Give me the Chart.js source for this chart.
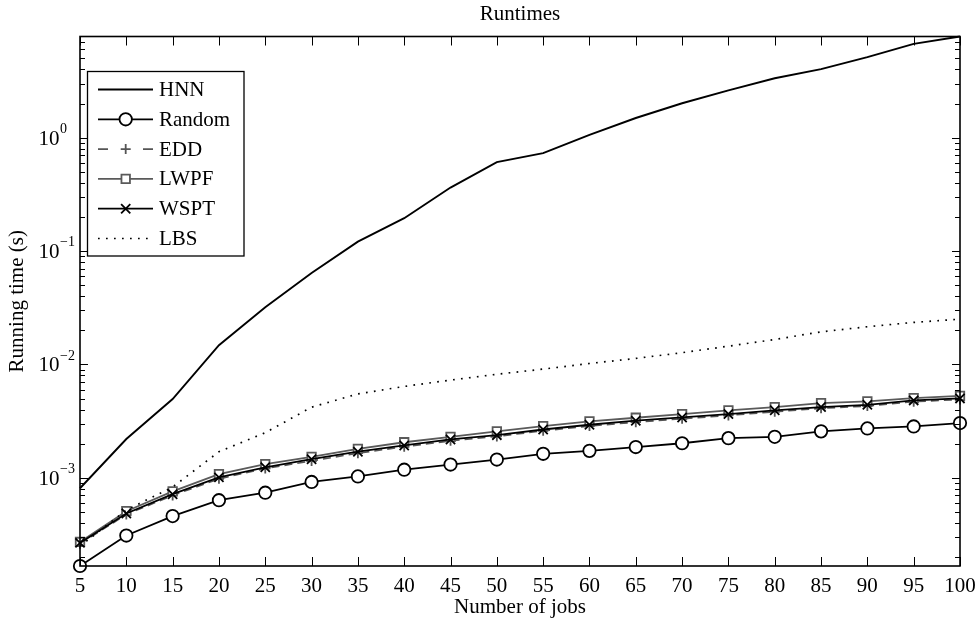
<!DOCTYPE html>
<html><head><meta charset="utf-8">
<script src="https://cdn.jsdelivr.net/npm/chart.js@4"></script>
<style>html,body{margin:0;padding:0;background:#fff}</style>
</head><body>
<canvas id="c" width="980" height="624"></canvas>
<script>
// ---- data ----
const jobs   = [5,10,15,20,25,30,35,40,45,50,55,60,65,70,75,80,85,90,95,100];
const hnn    = [8.1e-4,2.2e-3,4.95e-3,1.48e-2,3.2e-2,6.4e-2,0.121,0.195,0.363,0.608,0.73,1.06,1.49,2.01,2.61,3.34,4.02,5.13,6.71,7.8];
const random = [1.67e-4,3.1e-4,4.6e-4,6.35e-4,7.4e-4,9.2e-4,1.03e-3,1.18e-3,1.31e-3,1.45e-3,1.63e-3,1.73e-3,1.87e-3,2.02e-3,2.24e-3,2.30e-3,2.57e-3,2.73e-3,2.84e-3,3.04e-3];
const edd    = [2.62e-4,4.75e-4,7.0e-4,0.98e-3,1.21e-3,1.41e-3,1.65e-3,1.88e-3,2.12e-3,2.32e-3,2.60e-3,2.86e-3,3.10e-3,3.32e-3,3.55e-3,3.83e-3,4.10e-3,4.30e-3,4.70e-3,4.90e-3];
const lwpf   = [2.72e-4,5.08e-4,7.6e-4,1.08e-3,1.32e-3,1.53e-3,1.80e-3,2.06e-3,2.30e-3,2.57e-3,2.86e-3,3.15e-3,3.39e-3,3.65e-3,3.94e-3,4.21e-3,4.56e-3,4.72e-3,5.05e-3,5.29e-3];
const wspt   = [2.67e-4,4.85e-4,7.18e-4,1.01e-3,1.24e-3,1.46e-3,1.70e-3,1.93e-3,2.18e-3,2.38e-3,2.67e-3,2.94e-3,3.19e-3,3.41e-3,3.65e-3,3.94e-3,4.21e-3,4.41e-3,4.82e-3,5.02e-3];
const lbs    = [2.5e-4,5.2e-4,8.3e-4,1.7e-3,2.5e-3,4.2e-3,5.5e-3,6.4e-3,7.28e-3,8.2e-3,9.1e-3,1.02e-2,1.13e-2,1.27e-2,1.45e-2,1.66e-2,1.94e-2,2.15e-2,2.35e-2,2.51e-2];
const xTicks = jobs;
const yDecadeExps = [-4,-3,-2,-1,0];
const yMinorMults = [2,3,4,5,6,7,8,9];
const yMin = 1.67e-4, yMax = 7.8;
const chartTitle = 'Runtimes';

const FONT = "'Liberation Serif','Times New Roman',serif";

const styles = {
  HNN:    {color:'#000', width:1.9, dash:[], point:false},
  Random: {color:'#000', width:1.8, dash:[], point:'circle', r:6.2},
  EDD:    {color:'#555', width:1.6, dash:[8,5], point:'cross', r:5},
  LWPF:   {color:'#5a5a5a', width:1.8, dash:[], point:'rect', r:6},
  WSPT:   {color:'#000', width:1.8, dash:[], point:'crossRot', r:6.5},
  LBS:    {color:'#000', width:1.7, dash:[1.7,6.3], point:false}
};
const series = [['HNN',hnn],['Random',random],['EDD',edd],['LWPF',lwpf],['WSPT',wspt],['LBS',lbs]];

const datasets = series.map(([name, vals], i) => {
  const s = styles[name];
  return {
    label: name,
    data: jobs.map((x, k) => ({x, y: vals[k]})),
    borderColor: s.color,
    borderWidth: s.width,
    borderDash: s.dash,
    pointStyle: s.point || 'circle',
    pointRadius: s.point ? s.r : 0,
    pointBorderColor: s.color,
    pointBorderWidth: 1.8,
    pointBackgroundColor: (s.point === 'circle' || s.point === 'rect') ? '#fff' : s.color,
    fill: false,
    tension: 0,
    clip: false,
    order: 10 - i
  };
});

function drawMarker(ctx, style, r, px, py, color) {
  ctx.save();
  ctx.strokeStyle = color;
  ctx.fillStyle = '#fff';
  ctx.lineWidth = 1.8;
  ctx.beginPath();
  if (style === 'circle') {
    ctx.arc(px, py, r, 0, Math.PI * 2);
    ctx.fill(); ctx.stroke();
  } else if (style === 'rect') {
    const h = r * Math.SQRT1_2;
    ctx.rect(px - h, py - h, 2 * h, 2 * h);
    ctx.fill(); ctx.stroke();
  } else if (style === 'cross') {
    ctx.moveTo(px - r, py); ctx.lineTo(px + r, py);
    ctx.moveTo(px, py - r); ctx.lineTo(px, py + r);
    ctx.stroke();
  } else if (style === 'crossRot') {
    const h = r * Math.SQRT1_2;
    ctx.moveTo(px - h, py - h); ctx.lineTo(px + h, py + h);
    ctx.moveTo(px - h, py + h); ctx.lineTo(px + h, py - h);
    ctx.stroke();
  }
  ctx.restore();
}

const decor = {
  id: 'decor',
  afterDatasetsDraw(chart) {
    const {ctx, chartArea: a, scales: {x, y}} = chart;
    ctx.save();
    ctx.strokeStyle = '#000';
    ctx.lineWidth = 1;
    ctx.setLineDash([]);
    ctx.beginPath();
    xTicks.forEach(v => {
      const px = Math.round(x.getPixelForValue(v)) + 0.5;
      ctx.moveTo(px, a.bottom); ctx.lineTo(px, a.bottom - 9);
      ctx.moveTo(px, a.top); ctx.lineTo(px, a.top + 9);
    });
    yDecadeExps.forEach(e => {
      const dv = Math.pow(10, e);
      if (dv >= yMin && dv <= yMax) {
        const py = Math.round(y.getPixelForValue(dv)) + 0.5;
        ctx.moveTo(a.left, py); ctx.lineTo(a.left + 8, py);
        ctx.moveTo(a.right, py); ctx.lineTo(a.right - 8, py);
      }
      yMinorMults.forEach(m => {
        const v = m * dv;
        if (v >= yMin && v <= yMax) {
          const py = Math.round(y.getPixelForValue(v)) + 0.5;
          ctx.moveTo(a.left, py); ctx.lineTo(a.left + 5, py);
          ctx.moveTo(a.right, py); ctx.lineTo(a.right - 5, py);
        }
      });
    });
    ctx.stroke();
    ctx.lineWidth = 1.6;
    ctx.strokeRect(a.left, a.top, a.right - a.left, a.bottom - a.top);
    ctx.fillStyle = '#000';
    ctx.textBaseline = 'middle';
    yDecadeExps.forEach(e => {
      const dv = Math.pow(10, e);
      if (dv < yMin || dv > yMax) return;
      const py = y.getPixelForValue(dv);
      ctx.font = '21px ' + FONT;
      ctx.textAlign = 'right';
      ctx.fillText('10', 59.5, py + 1.5);
      ctx.font = '14px ' + FONT;
      ctx.textAlign = 'left';
      ctx.fillText(e < 0 ? '\u2212' + (-e) : String(e), 60, py - 8.5);
    });
    ctx.font = '21px ' + FONT;
    ctx.textAlign = 'center';
    ctx.textBaseline = 'alphabetic';
    ctx.fillText(chartTitle, (a.left + a.right) / 2, 20);
    ctx.restore();
  },
  afterDraw(chart) {
    const {ctx} = chart;
    ctx.save();
    const bx = 87.5, by = 71.5, bw = 156.5, bh = 184.5;
    ctx.fillStyle = '#fff';
    ctx.fillRect(bx, by, bw, bh);
    ctx.strokeStyle = '#000';
    ctx.lineWidth = 1.3;
    ctx.setLineDash([]);
    ctx.strokeRect(bx, by, bw, bh);
    chart.data.datasets.forEach((ds, i) => {
      const s = styles[ds.label];
      const cy = 89.5 + i * 29.8;
      ctx.strokeStyle = s.color;
      ctx.lineWidth = s.width;
      ctx.setLineDash(s.dash);
      ctx.beginPath();
      if (ds.label === 'EDD') {
        ctx.setLineDash([]);
        ctx.moveTo(98, cy); ctx.lineTo(108, cy);
        ctx.moveTo(143, cy); ctx.lineTo(153, cy);
      } else {
        ctx.moveTo(98, cy); ctx.lineTo(153, cy);
      }
      ctx.stroke();
      ctx.setLineDash([]);
      if (s.point) drawMarker(ctx, s.point, s.r, 125.7, cy, s.color);
      ctx.fillStyle = '#000';
      ctx.font = '21px ' + FONT;
      ctx.textAlign = 'left';
      ctx.textBaseline = 'middle';
      ctx.fillText(ds.label, 159, cy + 1);
    });
    ctx.restore();
  }
};

new Chart(document.getElementById('c'), {
  type: 'line',
  data: {datasets},
  plugins: [decor],
  options: {
    responsive: false,
    animation: false,
    devicePixelRatio: 1,
    layout: {padding: {left: 0, right: 20, top: 36.5, bottom: 0}},
    plugins: {
      legend: {display: false},
      tooltip: {enabled: false},
      title: {display: false}
    },
    scales: {
      x: {
        type: 'linear', min: 5, max: 100,
        afterBuildTicks: sc => { sc.ticks = xTicks.map(v => ({value: v})); },
        afterFit: sc => { sc.height = 58; },
        grid: {display: false},
        border: {display: false},
        ticks: {color: '#000', font: {family: FONT, size: 21}, padding: 0, autoSkip: false, maxRotation: 0},
        title: {display: true, text: 'Number of jobs', color: '#000', font: {family: FONT, size: 21}, padding: {top: 0, bottom: 3.5}}
      },
      y: {
        type: 'logarithmic', min: yMin, max: yMax,
        afterFit: sc => { sc.width = 80; },
        grid: {display: false},
        border: {display: false},
        ticks: {display: false},
        title: {display: true, text: 'Running time (s)', color: '#000', font: {family: FONT, size: 21}, padding: {top: 5, bottom: 0}}
      }
    }
  }
});
</script>
</body></html>
